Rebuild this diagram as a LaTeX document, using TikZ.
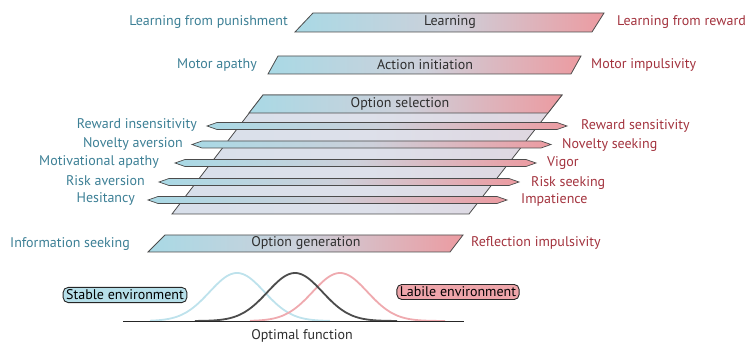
\documentclass[tikz,border=0pt]{standalone}
\usepackage{fontspec}
\setmainfont{PT Sans}
\definecolor{lowblue}{HTML}{A9D9E5}
\definecolor{highred}{HTML}{EC9BA1}
\definecolor{midgrey}{HTML}{CDD0DA}
\definecolor{panelgrey}{HTML}{DDE0EA}
\definecolor{bluetext}{HTML}{3C7F95}
\definecolor{redtext}{HTML}{A3333E}
\definecolor{bartext}{HTML}{2E2E2E}
\tikzset{
  bar/.style={draw=black!70, line width=0.8pt, left color=lowblue, right color=highred, middle color=midgrey},
  thinbar/.style={draw=black!70, line width=0.7pt, left color=lowblue, right color=highred, middle color=midgrey},
  bartitle/.style={text=bartext, font=\fontsize{14}{16}\selectfont, inner sep=0pt},
  bluelab/.style={text=bluetext, font=\fontsize{14}{16}\selectfont, inner sep=0pt, anchor=east},
  redlab/.style={text=redtext, font=\fontsize{14}{16}\selectfont, inner sep=0pt, anchor=west},
  envbox/.style={draw=black!85, line width=0.9pt, rounded corners=5pt, inner xsep=3pt, inner ysep=2.5pt, font=\fontsize{14}{16}\selectfont},
  curve/.style={line width=1.8pt, samples=90},
}
\begin{document}
\begin{tikzpicture}[x=1pt, y=-1pt]
\useasboundingbox (0,0) rectangle (748,344);
% Learning:
\draw[bar] (313,13) -- (604,13) -- (592,32) -- (295,32) -- cycle;
\node[bartitle] (learn) at (450,22.5) {Learning};
\node[bluelab] (punish) at (288,22) {Learning from punishment};
\node[redlab] (reward) at (617,22) {Learning from reward};
% Action initiation:
\draw[bar] (278,56) -- (581,56) -- (571,74) -- (268,74) -- cycle;
\node[bartitle] (action) at (425,65) {Action initiation};
\node[bluelab] (motapathy) at (257,65) {Motor apathy};
\node[redlab] (motimpuls) at (591,65) {Motor impulsivity};
% Option selection, Hintergrund:
\draw[draw=black!70, line width=0.8pt, left color=panelgrey!90!lowblue, right color=panelgrey!85!highred, middle color=panelgrey]
  (263,95) -- (562,95) -- (469,214) -- (172,214) -- cycle;
\draw[bar] (263,95) -- (562,95) -- (548,113) -- (249,113) -- cycle;
\node[bartitle] (select) at (400,104) {Option selection};
% Option selection, Balken:
\draw[thinbar] (207,126) -- (217,122.5) -- (557,122.5) -- (567,126) -- (557,129.5) -- (217,129.5) -- cycle;
\node[bluelab] (rewins) at (197,125) {Reward insensitivity};
\node[redlab] (rewsens) at (581,126) {Reward sensitivity};
\draw[thinbar] (192,144.5) -- (202,141) -- (541,141) -- (551,144.5) -- (541,148) -- (202,148) -- cycle;
\node[bluelab] (novav) at (183,144) {Novelty aversion};
\node[redlab] (novseek) at (562,145) {Novelty seeking};
\draw[thinbar] (175,163) -- (185,159.5) -- (526,159.5) -- (536,163) -- (526,166.5) -- (185,166.5) -- cycle;
\node[bluelab] (motivapathy) at (159,162) {Motivational apathy};
\node[redlab] (vigor) at (547,163) {Vigor};
\draw[thinbar] (159,182) -- (169,178.5) -- (509,178.5) -- (519,182) -- (509,185.5) -- (169,185.5) -- cycle;
\node[bluelab] (riskav) at (145,181) {Risk aversion};
\node[redlab] (riskseek) at (531,183) {Risk seeking};
\draw[thinbar] (148,200) -- (158,196.5) -- (497,196.5) -- (507,200) -- (497,203.5) -- (158,203.5) -- cycle;
\node[bluelab] (hesit) at (135,199) {Hesitancy};
\node[redlab] (impat) at (521,200) {Impatience};
% Option generation:
\draw[bar] (165,235) -- (463,235) -- (450,252) -- (148,252) -- cycle;
\node[bartitle] (generate) at (306,243.5) {Option generation};
\node[bluelab] (infoseek) at (130,244) {Information seeking};
\node[redlab] (reflimp) at (471,243) {Reflection impulsivity};
% Kurven:
\draw[curve, lowblue!75!white, domain=150:330] plot (\x, {321-48*exp(-((\x-237)^2)/1500)});
\draw[curve, highred!85!white, domain=250:445] plot (\x, {321-48*exp(-((\x-340)^2)/1500)});
\draw[curve, black!70, domain=195:397] plot (\x, {321-48*exp(-((\x-295)^2)/1500)});
\coordinate (axisl) at (123,321);
\coordinate (axisr) at (464,321);
\draw[line width=0.9pt, black!85] (axisl) -- (axisr);
\node[envbox, fill=lowblue!85!white] (stable) at (125,295) {Stable environment};
\node[envbox, fill=highred!90!white] (labile) at (458,292) {Labile environment};
\node[text=bartext, font=\fontsize{14}{16}\selectfont, inner sep=0pt] (optimal) at (302,336) {Optimal function};
\end{tikzpicture}
\end{document}
